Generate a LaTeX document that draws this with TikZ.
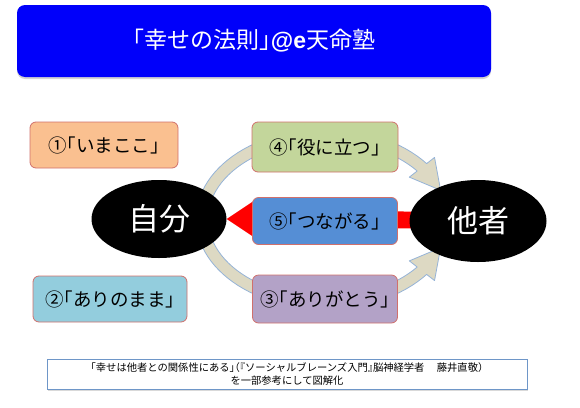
\documentclass[tikz,border=0pt]{standalone}
\usepackage{fontspec}
\setmainfont{Noto Sans CJK JP}[RawFeature=+halt]
\newfontfamily\latinfont{Liberation Sans}
\usepackage{tikz}
\usetikzlibrary{shapes.geometric,shadows,calc,backgrounds}
\definecolor{titleblue}{RGB}{0,0,250}
\definecolor{boxline}{RGB}{208,112,108}
\definecolor{imakoko}{RGB}{250,192,144}
\definecolor{arinomama}{RGB}{147,205,221}
\definecolor{yakunitatsu}{RGB}{195,214,155}
\definecolor{tsunagaru}{RGB}{85,142,213}
\definecolor{arigatou}{RGB}{179,162,199}
\definecolor{ringfill}{RGB}{221,217,195}
\definecolor{ringline}{RGB}{149,179,215}
\definecolor{noteline}{RGB}{110,150,200}

\begin{document}
\begin{tikzpicture}[x=1pt,y=-1pt,
    titlebox/.style={fill=titleblue, rounded corners=8pt, text=white,
      minimum width=474pt, minimum height=72pt,
      font=\fontsize{23}{25}\selectfont,
      drop shadow={shadow xshift=0pt, shadow yshift=-2pt, opacity=0.35}},
    keybox/.style={draw=boxline, line width=0.8pt, rounded corners=6pt,
      minimum width=146pt, minimum height=48pt, inner sep=0pt,
      font=\fontsize{18.5}{20}\selectfont},
    person/.style={ellipse, fill=black, text=white, inner sep=0pt,
      font=\fontsize{31}{33}\selectfont},
    ringarrow/.style={fill=ringfill, draw=ringline, line width=0.8pt, line join=round},
    notebox/.style={draw=noteline, fill=white, line width=0.6pt,
      minimum width=480pt, minimum height=30pt, align=center,
      font=\fontsize{10.3}{13}\selectfont,
      drop shadow={shadow xshift=1pt, shadow yshift=-1.5pt, opacity=0.3}}]
    \useasboundingbox (0,0) rectangle (580,407);
    \def\cx{325}
    \def\cy{219}
    % title
    \node[titlebox] (title) at (254,41) {「幸せの法則」{\latinfont\bfseries @e}天命塾};
    % the five keys
    \node[keybox, fill=imakoko, minimum width=148pt, minimum height=46pt] (key1) at (104,145) {①「いまここ」};
    \node[keybox, fill=arinomama, minimum width=154pt, minimum height=46pt] (key2) at (110,299) {②「ありのまま」};
    \node[keybox, fill=yakunitatsu, minimum height=50pt] (key4) at (325,147) {④「役に立つ」};
    \node[keybox, fill=tsunagaru, minimum width=145pt, minimum height=47pt] (key5) at (325,221) {⑤「つながる」};
    \node[keybox, fill=arigatou, minimum width=145pt] (key3) at (325,299) {③「ありがとう」};
    % self and others
    \node[person, minimum width=135pt, minimum height=78pt] (jibun) at (159,219) {自分};
    \node[person, minimum width=137pt, minimum height=82pt] (tasha) at (478,221) {他者};
    % source
    \node[notebox] (note) at (287,374) {「幸せは他者との関係性にある」（『ソーシャルブレーンズ入門』脳神経学者\hspace{1.2em}藤井直敬）\\を一部参考にして図解化};
    \begin{pgfonlayer}{background}
      \coordinate (ring) at (\cx,\cy);
      \filldraw[ringarrow] plot[domain=195:322, samples=40] ({\cx+129*cos(\x)},{\cy+90*sin(\x)})
        -- ({\cx+139*cos(322)},{\cy+100*sin(322)})
        -- ({\cx+123*cos(340)},{\cy+84*sin(340)})
        -- ({\cx+107*cos(322)},{\cy+68*sin(322)})
        -- ({\cx+117*cos(322)},{\cy+78*sin(322)})
        -- plot[domain=322:195, samples=40] ({\cx+117*cos(\x)},{\cy+78*sin(\x)}) -- cycle;
      \filldraw[ringarrow] plot[domain=165:38, samples=40] ({\cx+129*cos(\x)},{\cy+90*sin(\x)})
        -- ({\cx+139*cos(38)},{\cy+100*sin(38)})
        -- ({\cx+123*cos(20)},{\cy+84*sin(20)})
        -- ({\cx+107*cos(38)},{\cy+68*sin(38)})
        -- ({\cx+117*cos(38)},{\cy+78*sin(38)})
        -- plot[domain=38:165, samples=40] ({\cx+117*cos(\x)},{\cy+78*sin(\x)}) -- cycle;
      % red arrow from others to self
      \fill[red] (jibun.east) -- ++(30,-20) -- ++(0,11.5) -- ($(tasha.center)+(0,-9)$)
        -- ($(tasha.center)+(0,8)$) -- ($(jibun.east)+(30,8)$) -- ++(0,12) -- cycle;
    \end{pgfonlayer}
  \end{tikzpicture}
\end{document}
